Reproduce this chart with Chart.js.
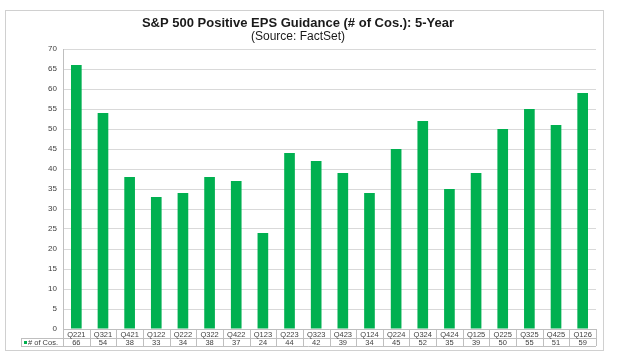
<!DOCTYPE html>
<html><head><meta charset="utf-8">
<script src="https://cdn.jsdelivr.net/npm/chart.js@4/dist/chart.umd.min.js"></script>
<style>
html,body{margin:0;padding:0;background:#fff;}
#wrap{position:relative;width:620px;height:356px;}
#frame{position:absolute;left:5px;top:10px;width:599px;height:341px;border:1px solid #d0d0d0;box-sizing:border-box;pointer-events:none;}
canvas{position:absolute;left:0;top:0;}
</style></head>
<body><div id="wrap"><canvas id="c" width="620" height="356"></canvas><div id="frame"></div></div>
<script>
const categories = ["Q221","Q321","Q421","Q122","Q222","Q322","Q422","Q123","Q223","Q323","Q423","Q124","Q224","Q324","Q424","Q125","Q225","Q325","Q425","Q126"];
const values = [66,54,38,33,34,38,37,24,44,42,39,34,45,52,35,39,50,55,51,59];
const seriesName = "# of Cos.";
const yTicks = [0,5,10,15,20,25,30,35,40,45,50,55,60,65,70];

const FONT = "'Liberation Sans', Arial, sans-serif";
const GREEN = "#00b050";

const tablePlugin = {
  id: 'dataTable',
  afterDraw(chart) {
    const ctx = chart.ctx, x = chart.scales.x, area = chart.chartArea;
    const n = categories.length;
    const step = (area.right - area.left) / n;
    const top = Math.round(area.bottom), rowH = 8.5;
    const leftCell = 21;
    const y1 = Math.round(top + rowH), y2 = Math.round(top + 2*rowH);
    ctx.save();
    ctx.strokeStyle = '#bfbfbf';
    ctx.lineWidth = 1;
    ctx.beginPath();
    ctx.moveTo(area.left, top + 0.5); ctx.lineTo(area.right, top + 0.5);
    ctx.moveTo(leftCell, y1 + 0.5); ctx.lineTo(area.right, y1 + 0.5);
    ctx.moveTo(leftCell, y2 + 0.5); ctx.lineTo(area.right, y2 + 0.5);
    ctx.moveTo(leftCell + 0.5, y1); ctx.lineTo(leftCell + 0.5, y2);
    for (let i = 0; i <= n; i++) {
      const xx = Math.round(area.left + i*step) + 0.5;
      ctx.moveTo(xx, top); ctx.lineTo(xx, y2);
    }
    ctx.stroke();
    ctx.fillStyle = '#404040';
    ctx.font = '7.5px ' + FONT;
    ctx.textAlign = 'center';
    ctx.textBaseline = 'middle';
    for (let i = 0; i < n; i++) {
      const cx = x.getPixelForValue(i);
      ctx.fillText(categories[i], cx, (top + y1)/2 + 1);
      ctx.fillText(String(values[i]), cx, (y1 + y2)/2 + 1);
    }
    ctx.fillStyle = GREEN;
    ctx.fillRect(leftCell + 3, (y1 + y2)/2 - 1, 3, 3);
    ctx.fillStyle = '#404040';
    ctx.textAlign = 'left';
    ctx.fillText(seriesName, leftCell + 7, (y1 + y2)/2 + 1);
    ctx.restore();
  }
};

new Chart(document.getElementById('c'), {
  type: 'bar',
  data: {
    labels: categories,
    datasets: [{ label: seriesName, data: values, backgroundColor: GREEN, borderWidth: 0,
      barPercentage: 0.8, categoryPercentage: 0.5 }]
  },
  options: {
    responsive: false,
    animation: false,
    layout: { padding: { left: 0, right: 24, top: 0, bottom: 0 } },
    plugins: {
      legend: { display: false },
      tooltip: { enabled: false },
      title: { display: true, text: 'S&P 500 Positive EPS Guidance (# of Cos.): 5-Year',
        color: '#1a1a1a', font: { family: FONT, size: 13, weight: 'bold', lineHeight: 1.0 }, padding: { top: 17, bottom: 0 } },
      subtitle: { display: true, text: '(Source: FactSet)', color: '#1a1a1a',
        font: { family: FONT, size: 12, lineHeight: 1.0 }, padding: { top: 1, bottom: 6 } }
    },
    scales: {
      x: {
        ticks: { display: false },
        grid: { display: false },
        border: { display: false },
        afterFit(s) { s.height = 27; }
      },
      y: {
        min: 0, max: 70,
        afterBuildTicks(s) { s.ticks = yTicks.map(v => ({ value: v })); },
        ticks: { color: '#404040', font: { family: FONT, size: 8 }, padding: 6 },
        grid: { color: '#d9d9d9', drawTicks: false },
        border: { color: '#bfbfbf' },
        afterFit(s) { s.width = 63; }
      }
    }
  },
  plugins: [tablePlugin]
});
</script></body></html>
